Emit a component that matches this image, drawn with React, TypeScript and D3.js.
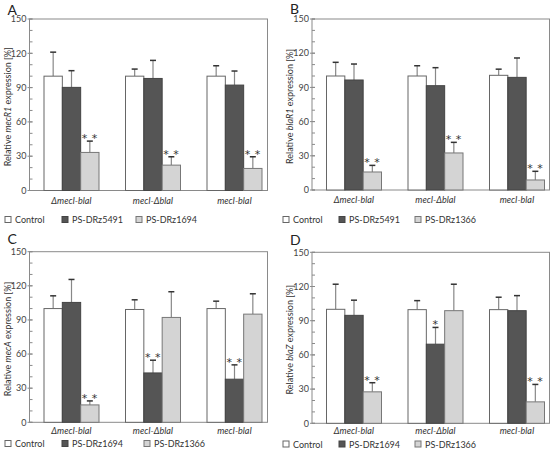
import React from "react";
import * as d3 from "d3";

const categories = ["ΔmecI-blaI", "mecI-ΔblaI", "mecI-blaI"];
const yTicks = [0, 30, 60, 90, 120, 150];

// Panel A: mecR1
const aSeries = ["Control", "PS-DRz5491", "PS-DRz1694"];
const aMeans = [[100, 90.2, 33.3], [100, 98, 22.2], [100, 92.2, 19.3]];
const aErrTop = [[121, 104.8, 43.2], [106.2, 113.8, 29.5], [109.1, 104.5, 29.5]];
const aStars = [["", "", "**"], ["", "", "**"], ["", "", "**"]];

// Panel B: blaR1
const bSeries = ["Control", "PS-DRz5491", "PS-DRz1366"];
const bMeans = [[100, 96.5, 15.8], [100, 91.5, 32.5], [100.6, 98.8, 8.8]];
const bErrTop = [[112, 110.5, 21.6], [109, 107.3, 41.8], [106, 115.8, 16.4]];
const bStars = [["", "", "**"], ["", "", "**"], ["", "", "**"]];

// Panel C: mecA
const cSeries = ["Control", "PS-DRz1694", "PS-DRz1366"];
const cMeans = [[100, 105.4, 15.3], [99.2, 43.4, 92.2], [100, 37.9, 95.1]];
const cErrTop = [[111.2, 125.6, 18.8], [107.7, 54.6, 114.8], [106.5, 50.5, 113]];
const cStars = [["", "", "**"], ["", "**", ""], ["", "**", ""]];

// Panel D: blaZ
const dSeries = ["Control", "PS-DRz1694", "PS-DRz1366"];
const dMeans = [[100, 94.7, 27.6], [99.7, 69.4, 98.8], [99.7, 98.8, 18.8]];
const dErrTop = [[122, 108, 35.6], [107.6, 84.1, 122], [110.6, 112, 34.1]];
const dStars = [["", "", "**"], ["", "*", ""], ["", "", "**"]];

const fills = ["#ffffff", "#555555", "#d4d4d4"];
const strokes = ["#666666", "#444444", "#777777"];
const FONT = "Lato, 'DejaVu Sans', sans-serif";

type PanelProps = {
  letter: string;
  letterY: number;
  gene: string;
  series: string[];
  means: number[][];
  errTop: number[][];
  stars: string[][];
  left: number;
  right: number;
  top: number;
  bottom: number;
  catDy: number;
  legendX: number[];
  legendY: number;
};

function Panel(p: PanelProps) {
  const y = d3.scaleLinear().domain([0, 150]).range([p.bottom, p.top]);
  const xc = d3
    .scalePoint<string>()
    .domain(categories)
    .range([p.left + 42, p.left + 205]);
  const groupW = 55;
  const minor = d3.range(0, 151, 10);
  return (
    <g>
      <text x={p.left - 22} y={p.letterY} fontSize={14} fontFamily={FONT} fill="#222">
        {p.letter}
      </text>
      <rect
        x={p.left}
        y={p.top}
        width={p.right - p.left}
        height={p.bottom - p.top}
        fill="none"
        stroke="#8a8a8a"
        strokeWidth={1}
      />
      {minor.map((t) => (
        <line
          key={"m" + t}
          x1={p.left}
          x2={p.left + 3}
          y1={y(t)}
          y2={y(t)}
          stroke="#8a8a8a"
        />
      ))}
      {yTicks.map((t) => (
        <g key={t}>
          <line x1={p.left - 2} x2={p.left + 3} y1={y(t)} y2={y(t)} stroke="#8a8a8a" />
          <text
            x={p.left - 3}
            y={y(t) + 3.2}
            textAnchor="end"
            fontSize={9}
            fontFamily={FONT}
            fill="#444"
          >
            {t}
          </text>
        </g>
      ))}
      <text
        transform={`translate(${p.left - 19},${(p.top + p.bottom) / 2 + 2}) rotate(-90)`}
        textAnchor="middle"
        fontSize={9}
        fontFamily={FONT}
        fill="#333"
      >
        Relative <tspan fontStyle="italic">{p.gene}</tspan> expression [%]
      </text>
      {categories.map((c, ci) => {
        const cx = xc(c) as number;
        const xb = d3
          .scaleBand<number>()
          .domain([0, 1, 2])
          .range([cx - groupW / 2, cx + groupW / 2])
          .padding(0);
        return (
          <g key={c}>
            {p.means[ci].map((v, si) => {
              const bx = xb(si) as number;
              const bw = xb.bandwidth();
              const mid = bx + bw / 2;
              const et = y(p.errTop[ci][si]);
              return (
                <g key={si}>
                  <line x1={mid} x2={mid} y1={y(v)} y2={et} stroke="#888" strokeWidth={1.2} />
                  <line x1={mid - 3} x2={mid + 3} y1={et} y2={et} stroke="#333" strokeWidth={1.5} />
                  <rect
                    x={bx}
                    y={y(v)}
                    width={bw}
                    height={p.bottom - y(v)}
                    fill={fills[si]}
                    stroke={strokes[si]}
                    strokeWidth={1}
                  />
                  {p.stars[ci][si] && (
                    <text
                      x={mid}
                      y={et + 1}
                      textAnchor="middle"
                      fontSize={11}
                      fontFamily="'DejaVu Sans', sans-serif"
                      fill="#333"
                      letterSpacing={0.5}
                    >
                      {p.stars[ci][si].split("").join(" ")}
                    </text>
                  )}
                </g>
              );
            })}
            <text
              x={cx}
              y={p.bottom + p.catDy}
              textAnchor="middle"
              fontSize={9}
              fontStyle="italic"
              fontFamily={FONT}
              fill="#333"
            >
              {c}
            </text>
          </g>
        );
      })}
      {p.series.map((s, si) => (
        <g key={s}>
          <rect
            x={p.legendX[si]}
            y={p.legendY - 6.5}
            width={6}
            height={6}
            fill={fills[si]}
            stroke={strokes[si]}
          />
          <text
            x={p.legendX[si] + 10}
            y={p.legendY}
            fontSize={9}
            fontFamily={FONT}
            fill="#333"
          >
            {s}
          </text>
        </g>
      ))}
    </g>
  );
}

export default function App() {
  return (
    <svg width={554} height={457} style={{ display: "block", position: "absolute", left: 0, top: 0 }}>
      <rect width={554} height={457} fill="#fff" />
      <Panel
        letter="A"
        letterY={15}
        gene="mecR1"
        series={aSeries}
        means={aMeans}
        errTop={aErrTop}
        stars={aStars}
        left={29.5}
        right={267.5}
        top={19}
        bottom={190.5}
        catDy={13}
        legendX={[5, 62, 136]}
        legendY={223}
      />
      <Panel
        letter="B"
        letterY={14}
        gene="blaR1"
        series={bSeries}
        means={bMeans}
        errTop={bErrTop}
        stars={bStars}
        left={312}
        right={549.5}
        top={19}
        bottom={190}
        catDy={13}
        legendX={[283, 339, 415]}
        legendY={223}
      />
      <Panel
        letter="C"
        letterY={244}
        gene="mecA"
        series={cSeries}
        means={cMeans}
        errTop={cErrTop}
        stars={cStars}
        left={29.5}
        right={267.5}
        top={251.7}
        bottom={422.3}
        catDy={12}
        legendX={[5, 62, 144]}
        legendY={447}
      />
      <Panel
        letter="D"
        letterY={245}
        gene="blaZ"
        series={dSeries}
        means={dMeans}
        errTop={dErrTop}
        stars={dStars}
        left={312}
        right={549.5}
        top={252.3}
        bottom={423.3}
        catDy={10.5}
        legendX={[283, 339, 415]}
        legendY={447.5}
      />
    </svg>
  );
}
